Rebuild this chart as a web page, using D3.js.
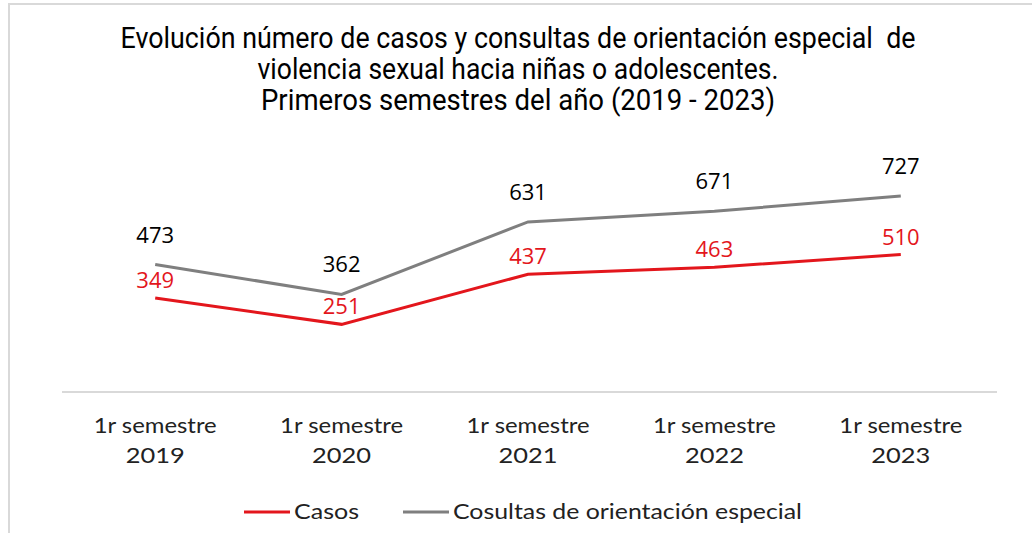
<!DOCTYPE html>
<html>
<head>
<meta charset="utf-8">
<style>
  body { margin: 0; background: #fff; }
  svg text { white-space: pre; }
  .titulo { font-family: Roboto, "Liberation Sans", sans-serif; font-size: 29px; fill: #000; }
  .eje { font-family: Lato, "DejaVu Sans", sans-serif; font-size: 21px; fill: #222; }
  .etiqueta { font-family: "Open Sans", "Noto Sans", sans-serif; font-size: 22px; }
  .leyenda { font-family: Lato, "DejaVu Sans", sans-serif; font-size: 21px; fill: #222; }
</style>
</head>
<body>
<script src="https://cdn.jsdelivr.net/npm/d3@7"></script>
<script>
// datos del gráfico
var anios = ["2019", "2020", "2021", "2022", "2023"];
var semestre = "1r semestre";
var casos = [349, 251, 437, 463, 510];
var consultas = [473, 362, 631, 671, 727];
var series = ["Casos", "Cosultas de orientación especial"];
var titulo = [
  "Evolución número de casos y consultas de orientación especial  de",
  "violencia sexual hacia niñas o adolescentes.",
  "Primeros semestres del año (2019 - 2023)"
];

var rojo = "#e3161c", gris = "#7f7f7f";

var svg = d3.select("body").append("svg")
  .attr("width", 1032)
  .attr("height", 533);

// marco del gráfico
svg.append("rect")
  .attr("x", 9).attr("y", 4)
  .attr("width", 1100).attr("height", 600)
  .attr("fill", "none")
  .attr("stroke", "#d9d9d9")
  .attr("stroke-width", 2);

// título
var anchosTitulo = [795, 521, 514];
svg.selectAll(".titulo")
  .data(titulo)
  .enter().append("text")
  .attr("class", "titulo")
  .attr("x", 518)
  .attr("y", function(d, i) { return 48 + i * 31; })
  .attr("text-anchor", "middle")
  .attr("textLength", function(d, i) { return anchosTitulo[i]; })
  .attr("lengthAdjust", "spacingAndGlyphs")
  .text(function(d) { return d; });

// escalas
var x = d3.scaleBand().domain(anios).range([62, 994]);
var y = d3.scaleLinear().domain([0, 800]).range([392, 176.4]);
var cx = function(d, i) { return x(anios[i]) + x.bandwidth() / 2; };

// eje x (solo línea)
svg.append("line")
  .attr("x1", 62).attr("x2", 997)
  .attr("y1", y(0)).attr("y2", y(0))
  .attr("stroke", "#d9d9d9")
  .attr("stroke-width", 2);

// etiquetas de categoría
var cat = svg.append("g").selectAll("g")
  .data(anios)
  .enter().append("g")
  .attr("transform", function(d) { return "translate(" + (x(d) + x.bandwidth() / 2) + ",0)"; });

cat.append("text")
  .attr("class", "eje")
  .attr("y", 433)
  .attr("text-anchor", "middle")
  .attr("textLength", 123)
  .attr("lengthAdjust", "spacingAndGlyphs")
  .text(semestre);

cat.append("text")
  .attr("class", "eje")
  .attr("y", 463)
  .attr("text-anchor", "middle")
  .attr("textLength", 59)
  .attr("lengthAdjust", "spacingAndGlyphs")
  .text(function(d) { return d; });

// líneas
var linea = d3.line()
  .x(cx)
  .y(function(d) { return y(d); });

svg.append("path")
  .datum(consultas)
  .attr("d", linea)
  .attr("fill", "none")
  .attr("stroke", gris)
  .attr("stroke-width", 3);

svg.append("path")
  .datum(casos)
  .attr("d", linea)
  .attr("fill", "none")
  .attr("stroke", rojo)
  .attr("stroke-width", 3);

// etiquetas de datos
svg.append("g").selectAll("text")
  .data(consultas)
  .enter().append("text")
  .attr("class", "etiqueta")
  .attr("x", cx)
  .attr("y", function(d) { return y(d) - 22; })
  .attr("text-anchor", "middle")
  .attr("fill", "#000")
  .text(function(d) { return d; });

svg.append("g").selectAll("text")
  .data(casos)
  .enter().append("text")
  .attr("class", "etiqueta")
  .attr("x", cx)
  .attr("y", function(d) { return y(d) - 10; })
  .attr("text-anchor", "middle")
  .attr("fill", rojo)
  .text(function(d) { return d; });

// leyenda
var leyenda = [
  {nombre: series[0], color: rojo, x0: 244, ancho: 65},
  {nombre: series[1], color: gris, x0: 403, ancho: 349}
];
var ley = svg.append("g").selectAll("g")
  .data(leyenda)
  .enter().append("g")
  .attr("transform", function(d) { return "translate(" + d.x0 + ",512)"; });

ley.append("line")
  .attr("x1", 0).attr("x2", 46)
  .attr("stroke", function(d) { return d.color; })
  .attr("stroke-width", 3);

ley.append("text")
  .attr("class", "leyenda")
  .attr("x", 50)
  .attr("y", 7)
  .attr("textLength", function(d) { return d.ancho; })
  .attr("lengthAdjust", "spacingAndGlyphs")
  .text(function(d) { return d.nombre; });
</script>
</body>
</html>
